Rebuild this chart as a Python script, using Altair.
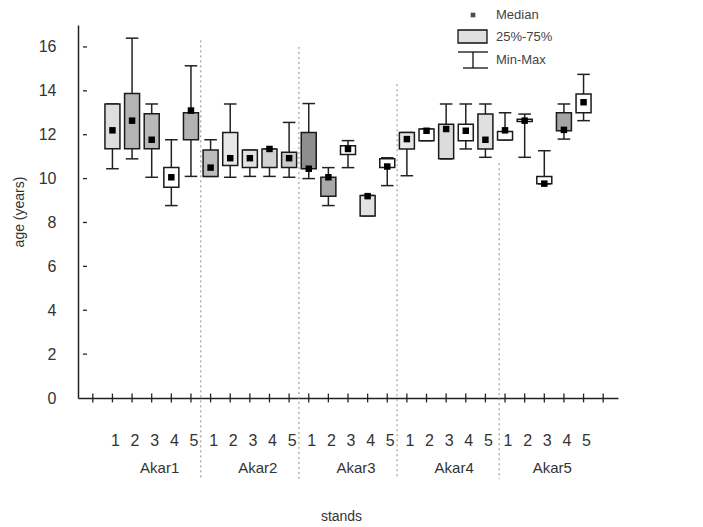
import altair as alt
import pandas as pd

groups = ["Akar1", "Akar2", "Akar3", "Akar4", "Akar5"]
stand_no = [1, 2, 3, 4, 5] * 5
mins = [10.45, 10.9, 10.06, 8.77, 10.1,
        10.1, 10.06, 10.1, 10.1, 10.06,
        10.0, 8.77, 10.5, 8.3, 9.68,
        10.13, 11.73, 10.9, 11.35, 10.97,
        11.76, 10.97, 9.76, 11.8, 12.64]
q1s = [11.36, 11.36, 11.36, 9.6, 11.77,
       10.1, 10.6, 10.5, 10.5, 10.5,
       10.45, 9.2, 11.1, 8.3, 10.5,
       11.35, 11.73, 10.9, 11.73, 11.35,
       11.76, 12.6, 9.76, 12.18, 13.0]
medians = [12.2, 12.64, 11.77, 10.06, 13.1,
           10.5, 10.93, 10.93, 11.35, 10.93,
           10.45, 10.06, 11.35, 9.2, 10.55,
           11.8, 12.18, 12.26, 12.18, 11.77,
           12.2, 12.64, 9.77, 12.22, 13.48]
q3s = [13.4, 13.88, 12.95, 10.5, 13.0,
       11.3, 12.1, 11.3, 11.35, 11.2,
       12.1, 10.06, 11.5, 9.23, 10.9,
       12.1, 12.26, 12.48, 12.48, 12.94,
       12.15, 12.7, 10.1, 13.0, 13.85]
maxs = [13.4, 16.4, 13.4, 11.77, 15.14,
        11.77, 13.4, 11.3, 11.35, 12.56,
        13.42, 10.5, 11.73, 9.23, 10.95,
        12.1, 12.26, 13.4, 13.4, 13.4,
        13.0, 12.94, 11.27, 13.4, 14.75]
fills = ["#dedede", "#b4b4b4", "#b8b8b8", "#ffffff", "#b2b2b2",
         "#bcbcbc", "#e8e8e8", "#e2e2e2", "#d2d2d2", "#cacaca",
         "#8e8e8e", "#a8a8a8", "#ffffff", "#e2e2e2", "#ffffff",
         "#e6e6e6", "#ffffff", "#dcdcdc", "#ffffff", "#e0e0e0",
         "#ffffff", "#ffffff", "#ffffff", "#a4a4a4", "#ffffff"]

y_ticks = [2, 4, 6, 8, 10, 12, 14, 16]
x_ticks = list(range(0, 27))
sep_x = [5.5, 10.5, 15.5, 20.7]
sep_top = [16.3, 16.0, 14.3, 10.7]
group_center = [3, 8, 13, 18, 23]

df = pd.DataFrame({
    "idx": list(range(1, 26)),
    "stand": stand_no,
    "group": [g for g in groups for _ in range(5)],
    "min": mins, "q1": q1s, "median": medians, "q3": q3s, "max": maxs,
    "fill": fills,
})
df_sep = pd.DataFrame({"x": sep_x, "top": sep_top})
df_grp = pd.DataFrame({"x": group_center, "label": groups})
df_xt = pd.DataFrame({"x": x_ticks})
df_yt = pd.DataFrame({"y": y_ticks})

FONT = "Liberation Sans"
xs = alt.Scale(domain=[-0.5, 26.5], nice=False, zero=False)
ys = alt.Scale(domain=[0, 17], nice=False)

x_axis = alt.Axis(
    title="stands", values=x_ticks, ticks=False, grid=False, labels=False,
    titleFontSize=14, titleFontWeight="normal", titlePadding=111, titleColor="#333",
    titleX=263, titleFont=FONT,
)
y_axis = alt.Axis(
    title="age (years)", values=[0, 2, 4, 6, 8, 10, 12, 14, 16], ticks=False, grid=False,
    labelPadding=22, labelFontSize=16, labelColor="#333",
    titleFontSize=14, titleFontWeight="normal", titlePadding=12, titleColor="#333",
    labelFont=FONT, titleFont=FONT,
)

base = alt.Chart(df)

seps = alt.Chart(df_sep).mark_rule(color="#8a8a8a", strokeDash=[2, 3], strokeWidth=1).encode(
    x=alt.X("x:Q", scale=xs, axis=x_axis),
    y=alt.Y("top:Q", scale=ys, axis=y_axis),
    y2=alt.datum(-3.7),
)

whisk = base.mark_rule(color="#222", strokeWidth=1.5).encode(
    x=alt.X("idx:Q", scale=xs), y=alt.Y("min:Q", scale=ys), y2="max:Q"
)
cap_hi = base.transform_calculate(lo="datum.idx - 0.32", hi="datum.idx + 0.32").mark_rule(
    color="#222", strokeWidth=1.5).encode(
    x=alt.X("lo:Q", scale=xs), x2="hi:Q", y=alt.Y("max:Q", scale=ys))
cap_lo = base.transform_calculate(lo="datum.idx - 0.32", hi="datum.idx + 0.32").mark_rule(
    color="#222", strokeWidth=1.5).encode(
    x=alt.X("lo:Q", scale=xs), x2="hi:Q", y=alt.Y("min:Q", scale=ys))
boxes = base.mark_bar(size=15, stroke="#1a1a1a", strokeWidth=1.5).encode(
    x=alt.X("idx:Q", scale=xs), y=alt.Y("q1:Q", scale=ys), y2="q3:Q",
    color=alt.Color("fill:N", scale=None),
)
meds = base.mark_square(size=42, color="#000", opacity=1).encode(
    x=alt.X("idx:Q", scale=xs), y=alt.Y("median:Q", scale=ys)
)

xticks = alt.Chart(df_xt).mark_rule(color="#222", strokeWidth=1.3).encode(
    x=alt.X("x:Q", scale=xs), y=alt.datum(-0.2), y2=alt.datum(0.2)
)
yticks = alt.Chart(df_yt).mark_rule(color="#222", strokeWidth=1.3).encode(
    x=alt.datum(-0.5), x2=alt.datum(-0.3), y=alt.Y("y:Q", scale=ys)
)

num_text = base.mark_text(
    fontSize=16, font=FONT, color="#333", baseline="middle", dx=3).encode(
    x=alt.X("idx:Q", scale=xs), y=alt.value(416), text="stand:N"
)
grp_text = alt.Chart(df_grp).mark_text(
    fontSize=15, font=FONT, color="#333", baseline="middle", dx=8).encode(
    x=alt.X("x:Q", scale=xs), y=alt.value(443), text="label:N"
)

# legend (top-right)
leg = alt.Chart(pd.DataFrame({"a": [0]}))
leg_dot = leg.mark_square(size=22, color="#000").encode(x=alt.value(395), y=alt.value(-10))
leg_box = leg.mark_rect(fill="#e0e0e0", stroke="#111", strokeWidth=1.3).encode(
    x=alt.value(380), x2=alt.value(409), y=alt.value(5), y2=alt.value(18))
leg_w1 = leg.mark_rule(color="#111", strokeWidth=1.3).encode(
    x=alt.value(380), x2=alt.value(410), y=alt.value(27))
leg_w2 = leg.mark_rule(color="#111", strokeWidth=1.3).encode(
    x=alt.value(395), y=alt.value(27), y2=alt.value(43))
leg_w3 = leg.mark_rule(color="#111", strokeWidth=1.3).encode(
    x=alt.value(385), x2=alt.value(410), y=alt.value(43))
leg_txt = alt.Chart(pd.DataFrame({"t": ["Median", "25%-75%", "Min-Max"], "yy": [-10, 12, 35]})).mark_text(
    align="left", baseline="middle", fontSize=13, font=FONT, color="#444").encode(
    x=alt.value(418), y=alt.Y("yy:Q", scale=None), text="t:N")

chart = alt.layer(
    seps, whisk, cap_hi, cap_lo, boxes, meds, xticks, yticks, num_text, grp_text,
    leg_dot, leg_box, leg_w1, leg_w2, leg_w3, leg_txt,
).properties(
    width=540, height=373,
    autosize=alt.AutoSizeParams(type="none"),
    padding={"left": 78, "top": 25, "right": 85, "bottom": 129},
    background="white",
).configure_view(stroke=None).configure_axis(
    domainColor="#222", domainWidth=1.5
)

chart.save("out.html", embed_options={"renderer": "svg", "actions": False})
